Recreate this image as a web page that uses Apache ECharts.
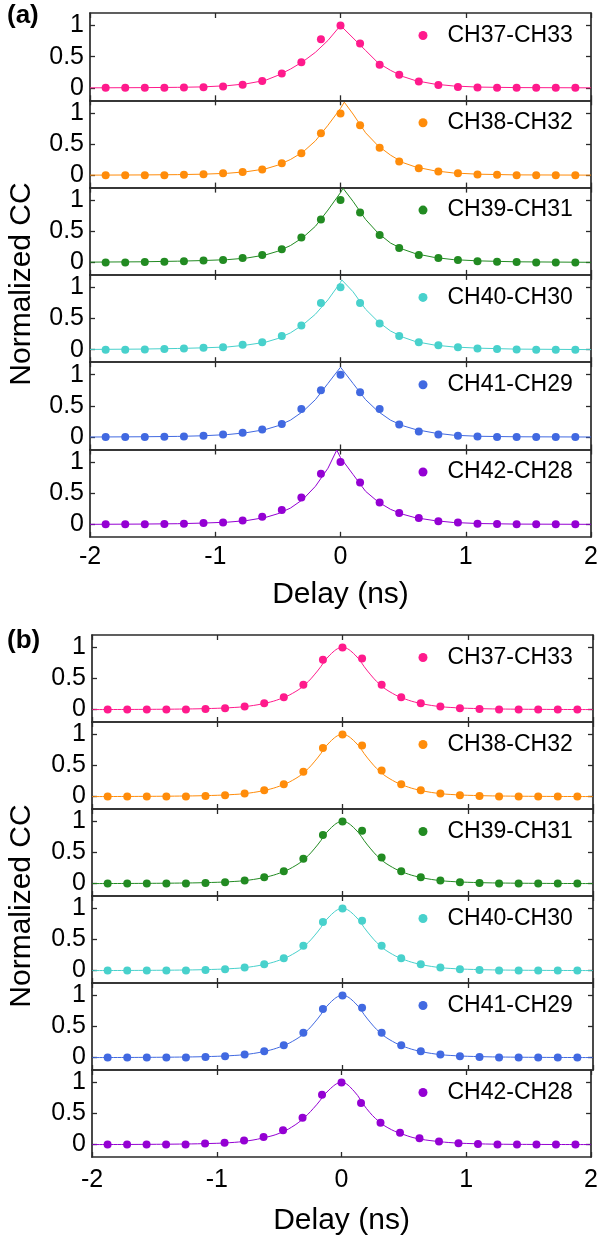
<!DOCTYPE html>
<html><head><meta charset="utf-8">
<script src="https://cdn.jsdelivr.net/npm/echarts@6/dist/echarts.min.js"></script>
<style>html,body{margin:0;padding:0;background:#fff}#c{width:601px;height:1239px}</style>
</head><body><div id="c"></div>
<script>
// ---------- data ----------
const delays = [-1.875,-1.71875,-1.5625,-1.40625,-1.25,-1.09375,-0.9375,-0.78125,-0.625,-0.46875,-0.3125,-0.15625,0,0.15625,0.3125,0.46875,0.625,0.78125,0.9375,1.09375,1.25,1.40625,1.5625,1.71875,1.875];
const names = ['CH37-CH33','CH38-CH32','CH39-CH31','CH40-CH30','CH41-CH29','CH42-CH28'];
const colors = ['#ff1a8c','#ff8c0a','#228b22','#48d1cc','#4169e1','#9400d3'];
const yTicks = [0, 0.5, 1];
const xTicks = [-2, -1, 0, 1, 2];

// panel (a): measured points
const a37 = [0,0,0,0,0.005,0.01,0.02,0.05,0.11,0.23,0.41,0.78,1.0,0.71,0.37,0.21,0.10,0.045,0.015,0.005,0,0,0,0,0];
const a38 = [0,0,0,0,0.005,0.015,0.03,0.05,0.09,0.19,0.35,0.67,0.99,0.80,0.44,0.22,0.11,0.06,0.03,0.01,0.005,0,0,0,0];
const a39 = [0,0,0.005,0.01,0.02,0.03,0.04,0.07,0.12,0.21,0.40,0.69,1.0,0.80,0.44,0.23,0.12,0.07,0.04,0.02,0.01,0.005,0,0,0];
const a40 = [0,0,0.005,0.01,0.02,0.03,0.04,0.08,0.12,0.22,0.39,0.75,1.0,0.75,0.42,0.22,0.12,0.07,0.04,0.02,0.01,0.005,0,0,0];
const a41 = [0,0,0,0.005,0.01,0.02,0.04,0.07,0.12,0.21,0.45,0.75,1.0,0.72,0.45,0.20,0.09,0.04,0.02,0.01,0,0,0,0,0];
const a42 = [0,0,0,0.005,0.01,0.02,0.03,0.06,0.12,0.23,0.43,0.81,1.0,0.67,0.35,0.18,0.10,0.05,0.03,0.01,0.005,0,0,0,0];

// panel (a): fitted curves, [delay, value]
const fa37 = [[-2,0],[-1.6,0.003],[-1.3,0.008],[-1.1,0.015],[-0.9,0.035],[-0.75,0.065],[-0.6,0.12],[-0.5,0.20],[-0.4,0.30],[-0.3,0.42],[-0.2,0.57],[-0.1,0.76],[0,1.0],[0.1,0.80],[0.2,0.60],[0.3,0.40],[0.4,0.28],[0.5,0.18],[0.6,0.115],[0.75,0.06],[0.9,0.03],[1.1,0.012],[1.4,0.004],[2,0]];
const fa38 = [[-2,0],[-1.6,0.003],[-1.3,0.008],[-1.1,0.015],[-0.9,0.03],[-0.75,0.055],[-0.6,0.10],[-0.5,0.16],[-0.4,0.25],[-0.3,0.37],[-0.2,0.55],[-0.1,0.80],[0,1.07],[0.03,1.17],[0.1,0.98],[0.2,0.68],[0.3,0.47],[0.4,0.32],[0.5,0.20],[0.6,0.13],[0.75,0.07],[0.9,0.035],[1.1,0.015],[1.4,0.004],[2,0]];
const fa39 = [[-2,0.005],[-1.6,0.01],[-1.3,0.02],[-1.1,0.03],[-0.9,0.045],[-0.75,0.07],[-0.6,0.12],[-0.5,0.18],[-0.4,0.27],[-0.3,0.40],[-0.2,0.58],[-0.1,0.84],[0,1.12],[0.02,1.19],[0.1,0.98],[0.2,0.69],[0.3,0.47],[0.4,0.31],[0.5,0.21],[0.6,0.14],[0.75,0.08],[0.9,0.045],[1.1,0.025],[1.4,0.01],[2,0.002]];
const fa40 = [[-2,0.005],[-1.6,0.01],[-1.3,0.02],[-1.1,0.03],[-0.9,0.045],[-0.75,0.075],[-0.6,0.12],[-0.5,0.18],[-0.4,0.27],[-0.3,0.40],[-0.2,0.57],[-0.1,0.80],[0,1.08],[0.01,1.12],[0.1,0.93],[0.2,0.65],[0.3,0.45],[0.4,0.30],[0.5,0.20],[0.6,0.13],[0.75,0.075],[0.9,0.045],[1.1,0.025],[1.4,0.01],[2,0.002]];
const fa41 = [[-2,0],[-1.6,0.004],[-1.3,0.01],[-1.1,0.02],[-0.9,0.04],[-0.75,0.07],[-0.6,0.12],[-0.5,0.18],[-0.4,0.27],[-0.3,0.41],[-0.2,0.60],[-0.1,0.86],[0,1.12],[0.1,0.86],[0.2,0.60],[0.3,0.41],[0.4,0.27],[0.5,0.18],[0.6,0.12],[0.75,0.065],[0.9,0.03],[1.1,0.012],[1.4,0.004],[2,0]];
const fa42 = [[-2,0],[-1.6,0.004],[-1.3,0.01],[-1.1,0.02],[-0.9,0.035],[-0.75,0.06],[-0.6,0.11],[-0.5,0.17],[-0.4,0.26],[-0.3,0.40],[-0.2,0.61],[-0.1,0.90],[-0.03,1.19],[0,1.07],[0.1,0.80],[0.2,0.53],[0.3,0.36],[0.4,0.24],[0.5,0.16],[0.6,0.105],[0.75,0.06],[0.9,0.03],[1.1,0.013],[1.4,0.004],[2,0]];

// panel (b): measured points
const b37 = [0,0,0,0,0,0.01,0.02,0.05,0.10,0.20,0.40,0.80,1.0,0.82,0.40,0.20,0.10,0.05,0.02,0.01,0,0,0,0,0];
const b38 = [0,0,0,0,0,0.01,0.02,0.05,0.10,0.20,0.40,0.78,1.0,0.82,0.42,0.20,0.10,0.05,0.02,0.01,0,0,0,0,0];
const b39 = [0,0,0,0,0,0.01,0.02,0.05,0.10,0.20,0.40,0.78,1.0,0.85,0.42,0.20,0.10,0.05,0.02,0.01,0,0,0,0,0];
const b40 = [0,0,0,0,0,0.01,0.02,0.05,0.10,0.20,0.40,0.78,1.0,0.80,0.40,0.20,0.10,0.05,0.02,0.01,0,0,0,0,0];
const b41 = [0,0,0,0,0,0.01,0.02,0.05,0.10,0.20,0.40,0.78,1.0,0.80,0.40,0.20,0.10,0.05,0.02,0.01,0,0,0,0,0];
const b42 = [0,0,0,0,0,0.016,0.03,0.065,0.12,0.23,0.43,0.80,1.0,0.67,0.35,0.19,0.10,0.05,0.02,0.01,0,0,0,0,0];

// panel (b): fitted curves on a common delay grid
const fitXb = [-2,-1.6,-1.3,-1.1,-0.9,-0.75,-0.6,-0.5,-0.4,-0.3,-0.2,-0.1,0,0.1,0.2,0.3,0.4,0.5,0.6,0.75,0.9,1.1,1.3,1.6,2];
const fb37 = [0,0.003,0.008,0.015,0.03,0.055,0.11,0.17,0.26,0.40,0.62,0.88,1.0,0.88,0.62,0.40,0.26,0.17,0.11,0.055,0.03,0.015,0.008,0.003,0];
const fb38 = [0,0.003,0.008,0.015,0.03,0.055,0.11,0.17,0.26,0.40,0.62,0.88,1.0,0.88,0.62,0.40,0.26,0.17,0.11,0.055,0.03,0.015,0.008,0.003,0];
const fb39 = [0,0.003,0.008,0.015,0.03,0.055,0.11,0.17,0.26,0.40,0.62,0.88,1.0,0.88,0.62,0.40,0.26,0.17,0.11,0.055,0.03,0.015,0.008,0.003,0];
const fb40 = [0,0.003,0.008,0.015,0.03,0.055,0.11,0.17,0.26,0.40,0.62,0.88,1.0,0.88,0.62,0.40,0.26,0.17,0.11,0.055,0.03,0.015,0.008,0.003,0];
const fb41 = [0,0.003,0.008,0.015,0.03,0.055,0.11,0.17,0.26,0.40,0.62,0.88,1.0,0.88,0.62,0.40,0.26,0.17,0.11,0.055,0.03,0.015,0.008,0.003,0];
const fb42 = [0,0.003,0.008,0.015,0.03,0.06,0.12,0.18,0.28,0.43,0.64,0.88,1.0,0.86,0.58,0.37,0.24,0.16,0.10,0.055,0.028,0.012,0.005,0.002,0];

// ---------- layout ----------
const FONT = 'Liberation Sans, Arial, sans-serif';
const AX = '#2a2a2a';
const panels = [
  {label:'(a)', left:90, top:13, h:87.3, pts:[a37,a38,a39,a40,a41,a42], fits:[fa37,fa38,fa39,fa40,fa41,fa42], smooth:false, labelMargin:8, nameGap:43, labelY:16, titleY:284},
  {label:'(b)', left:92, top:635, h:87, pts:[b37,b38,b39,b40,b41,b42], fits:[fb37,fb38,fb39,fb40,fb41,fb42].map(f=>f.map((v,k)=>[fitXb[k],v])), smooth:0.4, labelMargin:11, nameGap:49, labelY:641, titleY:906}
];

const grid=[], xAxis=[], yAxis=[], series=[], legend=[], graphic=[];
const lineStyle = {color:AX, width:1.7};
const tickStyle = {color:AX, width:1.3};
panels.forEach((P,p)=>{
  graphic.push({type:'text', x:7, y:P.labelY, style:{text:P.label, font:'bold 26px '+FONT, fill:'#000', textVerticalAlign:'middle'}});
  graphic.push({type:'text', x:22, y:P.titleY, rotation:Math.PI/2, style:{text:'Normalized CC', font:'30px '+FONT, fill:'#000', textAlign:'center', textVerticalAlign:'middle'}});
  for(let i=0;i<6;i++){
    const g = grid.length;
    const top = P.top + i*P.h;
    grid.push({left:P.left, top:top, width:501, height:P.h});
    const last = i===5;
    xAxis.push({gridIndex:g, type:'value', min:xTicks[0], max:xTicks[xTicks.length-1], interval:1, position:'bottom',
      axisLine:{onZero:false, lineStyle}, axisTick:{inside:true, length:5, lineStyle:tickStyle},
      axisLabel:{show:last, margin:P.labelMargin, fontSize:25, color:'#000', fontFamily:FONT},
      splitLine:{show:false},
      name:last?'Delay (ns)':'', nameLocation:'middle', nameGap:P.nameGap,
      nameTextStyle:{fontSize:30, color:'#000', fontFamily:FONT}});
    xAxis.push({gridIndex:g, type:'value', min:-2, max:2, interval:1, position:'top',
      axisLine:{onZero:false, lineStyle}, axisTick:{inside:true, length:5, lineStyle:tickStyle},
      axisLabel:{show:false}, splitLine:{show:false}});
    yAxis.push({gridIndex:g, type:'value', min:-0.2, max:1.2, position:'left',
      axisLine:{onZero:false, lineStyle}, axisTick:{inside:true, length:5, lineStyle:tickStyle, customValues:yTicks},
      axisLabel:{customValues:yTicks, margin:6, fontSize:25, color:'#000', fontFamily:FONT, formatter:v=>String(v)},
      splitLine:{show:false}});
    yAxis.push({gridIndex:g, type:'value', min:-0.2, max:1.2, position:'right',
      axisLine:{onZero:false, lineStyle}, axisTick:{inside:true, length:5, lineStyle:tickStyle, customValues:yTicks},
      axisLabel:{show:false}, splitLine:{show:false}});
    series.push({type:'line', name:'fit'+p+i, xAxisIndex:2*g, yAxisIndex:2*g, data:P.fits[i], showSymbol:false, smooth:P.smooth,
      lineStyle:{color:colors[i], width:1}, itemStyle:{color:colors[i]}, silent:true, z:2, animation:false});
    series.push({type:'scatter', name:names[i], xAxisIndex:2*g, yAxisIndex:2*g, data:P.pts[i].map((v,k)=>[delays[k],v]),
      symbol:'circle', symbolSize:8, itemStyle:{color:colors[i], opacity:1}, z:3, animation:false});
    legend.push({data:[{name:names[i], icon:'circle'}], left:418.5, top:top+11, padding:0, itemWidth:9, itemHeight:9,
      selectedMode:false, formatter:'{t|{name}}',
      textStyle:{color:'#000', fontFamily:FONT, fontSize:23, rich:{t:{fontSize:23, fontFamily:FONT, color:'#000', padding:[0,0,0,15]}}}});
  }
});

const chart = echarts.init(document.getElementById('c'), null, {renderer:'canvas'});
chart.setOption({animation:false, backgroundColor:'#fff', grid, xAxis, yAxis, series, legend, graphic});
</script></body></html>
